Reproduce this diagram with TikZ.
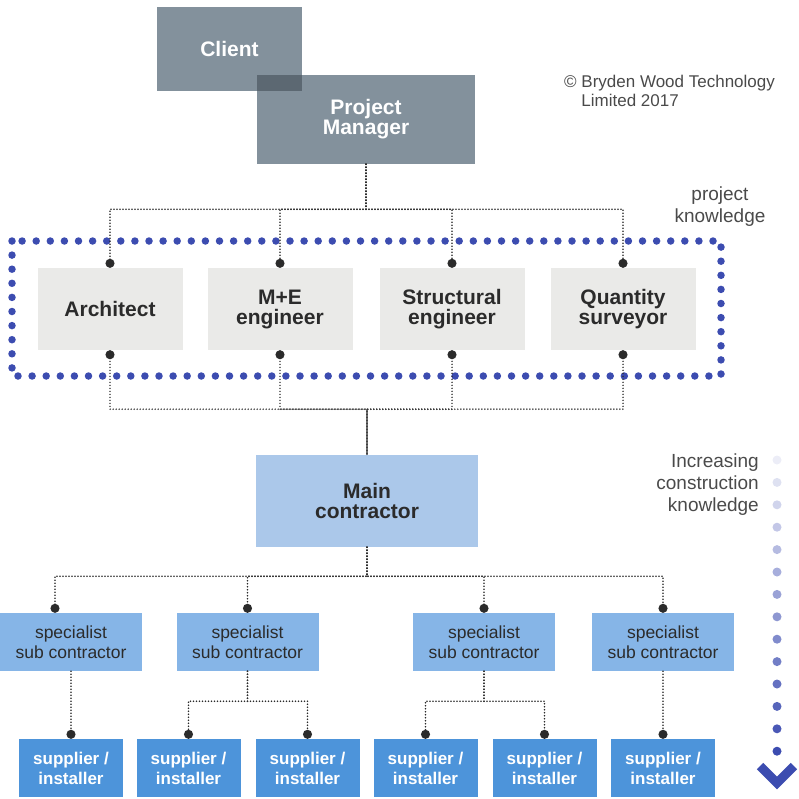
\documentclass[tikz,border=0pt]{standalone}
\usepackage{fontspec}
\setmainfont{Liberation Sans}
\usetikzlibrary{arrows.meta}
\definecolor{slate}{HTML}{83919C}
\definecolor{slatedark}{HTML}{5C6872}
\definecolor{paper}{HTML}{EAEAE8}
\definecolor{mainblue}{HTML}{ABC8EA}
\definecolor{specblue}{HTML}{86B5E7}
\definecolor{supblue}{HTML}{4D94DA}
\definecolor{kblue}{HTML}{3C4CB0}
\definecolor{linkgray}{HTML}{2B2B2B}
\definecolor{notegray}{HTML}{4A4A4A}
\tikzset{
  bigbox/.style={inner sep=0pt, align=center, font=\bfseries\fontsize{21}{20}\selectfont},
  top/.style={bigbox, fill=slate, text=white},
  consult/.style={bigbox, fill=paper, text=linkgray, minimum width=145pt, minimum height=82pt},
  contractor/.style={bigbox, fill=mainblue, text=linkgray},
  specbox/.style={inner sep=0pt, align=center, fill=specblue, text=linkgray, minimum width=142pt, minimum height=58pt, font=\fontsize{17.5}{20}\selectfont},
  supbox/.style={inner sep=0pt, align=center, fill=supblue, text=white, minimum width=104pt, minimum height=58pt, font=\bfseries\fontsize{17}{20}\selectfont},
  note/.style={inner sep=0pt, text=notegray, font=\fontsize{19}{22}\selectfont},
  link/.style={draw=linkgray, line width=1.7pt, dash pattern=on 0pt off 3pt, line cap=round},
  linkin/.style={link, -{Circle[length=9pt]}},
  linkout/.style={link, {Circle[length=9pt]}-},
  kframe/.style={draw=kblue, line width=7.5pt, dash pattern=on 0pt off 14.1pt, line cap=round}
}
\begin{document}
\begin{tikzpicture}[x=1pt,y=-1pt]
\useasboundingbox (0,0) rectangle (799,798);
\node[top, minimum width=145pt, minimum height=84pt] (Client) at (229.5,49) {Client};
\node[top, minimum width=218pt, minimum height=89pt] (PM) at (366,119.5) {Project\\Manager};
\fill[slatedark] (PM.north west) rectangle (Client.south east);
\node[note, font=\fontsize{17}{19}\selectfont, anchor=west, align=left] (Copy) at (564,91) {© Bryden Wood Technology\\\phantom{© }Limited 2017};
\node[note, align=center] (Project) at (720,207) {project\\knowledge};
\draw[kframe] (12,241) rectangle (721,376);
\node[consult] (Arch) at (110,309) {Architect};
\node[consult] (ME) at (280,309) {M+E\\engineer};
\node[consult] (Struct) at (452,309) {Structural\\engineer};
\node[consult] (QS) at (623,309) {Quantity\\surveyor};
\draw[linkin] (PM.south) -- ++(0,45) -| (Arch.north);
\draw[linkin] (PM.south) -- ++(0,45) -| (ME.north);
\draw[linkin] (PM.south) -- ++(0,45) -| (Struct.north);
\draw[linkin] (PM.south) -- ++(0,45) -| (QS.north);
\node[contractor, minimum width=222pt, minimum height=92pt] (Main) at (367,501) {Main\\contractor};
\draw[linkout] (Arch.south) -- ++(0,59) -| (Main.north);
\draw[linkout] (ME.south) -- ++(0,59) -| (Main.north);
\draw[linkout] (Struct.south) -- ++(0,59) -| (Main.north);
\draw[linkout] (QS.south) -- ++(0,59) -| (Main.north);
\node[note, align=right, anchor=east] (Incr) at (759,485) {Increasing\\construction\\knowledge};
\node[specbox] (SpecA) at (71,642) {specialist\\sub contractor};
\node[specbox] (SpecB) at (247.5,642) {specialist\\sub contractor};
\node[specbox] (SpecC) at (484,642) {specialist\\sub contractor};
\node[specbox] (SpecD) at (663,642) {specialist\\sub contractor};
\draw[linkin] (Main.south) -- ++(0,29) -| ([xshift=-16pt]SpecA.north);
\draw[linkin] (Main.south) -- ++(0,29) -| (SpecB.north);
\draw[linkin] (Main.south) -- ++(0,29) -| (SpecC.north);
\draw[linkin] (Main.south) -- ++(0,29) -| (SpecD.north);
\node[supbox] (SupA) at (71,768) {supplier /\\installer};
\node[supbox] (SupB) at (188.5,768) {supplier /\\installer};
\node[supbox] (SupC) at (307.5,768) {supplier /\\installer};
\node[supbox] (SupD) at (425.5,768) {supplier /\\installer};
\node[supbox] (SupE) at (544.5,768) {supplier /\\installer};
\node[supbox] (SupF) at (663,768) {supplier /\\installer};
\draw[linkin] (SpecA.south) -- (SupA.north);
\draw[linkin] (SpecB.south) -- ++(0,30) -| (SupB.north);
\draw[linkin] (SpecB.south) -- ++(0,30) -| (SupC.north);
\draw[linkin] (SpecC.south) -- ++(0,30) -| (SupD.north);
\draw[linkin] (SpecC.south) -- ++(0,30) -| (SupE.north);
\draw[linkin] (SpecD.south) -- (SupF.north);
\foreach \i in {0,...,13}
  \fill[kblue!\the\numexpr 10+\i*90/13\relax!white] (777,460+\i*22.4) circle (4.5pt);
\draw[kblue, line width=9pt, miter limit=4] (760,766) -- (777,783) -- (794,766);
\end{tikzpicture}
\end{document}
